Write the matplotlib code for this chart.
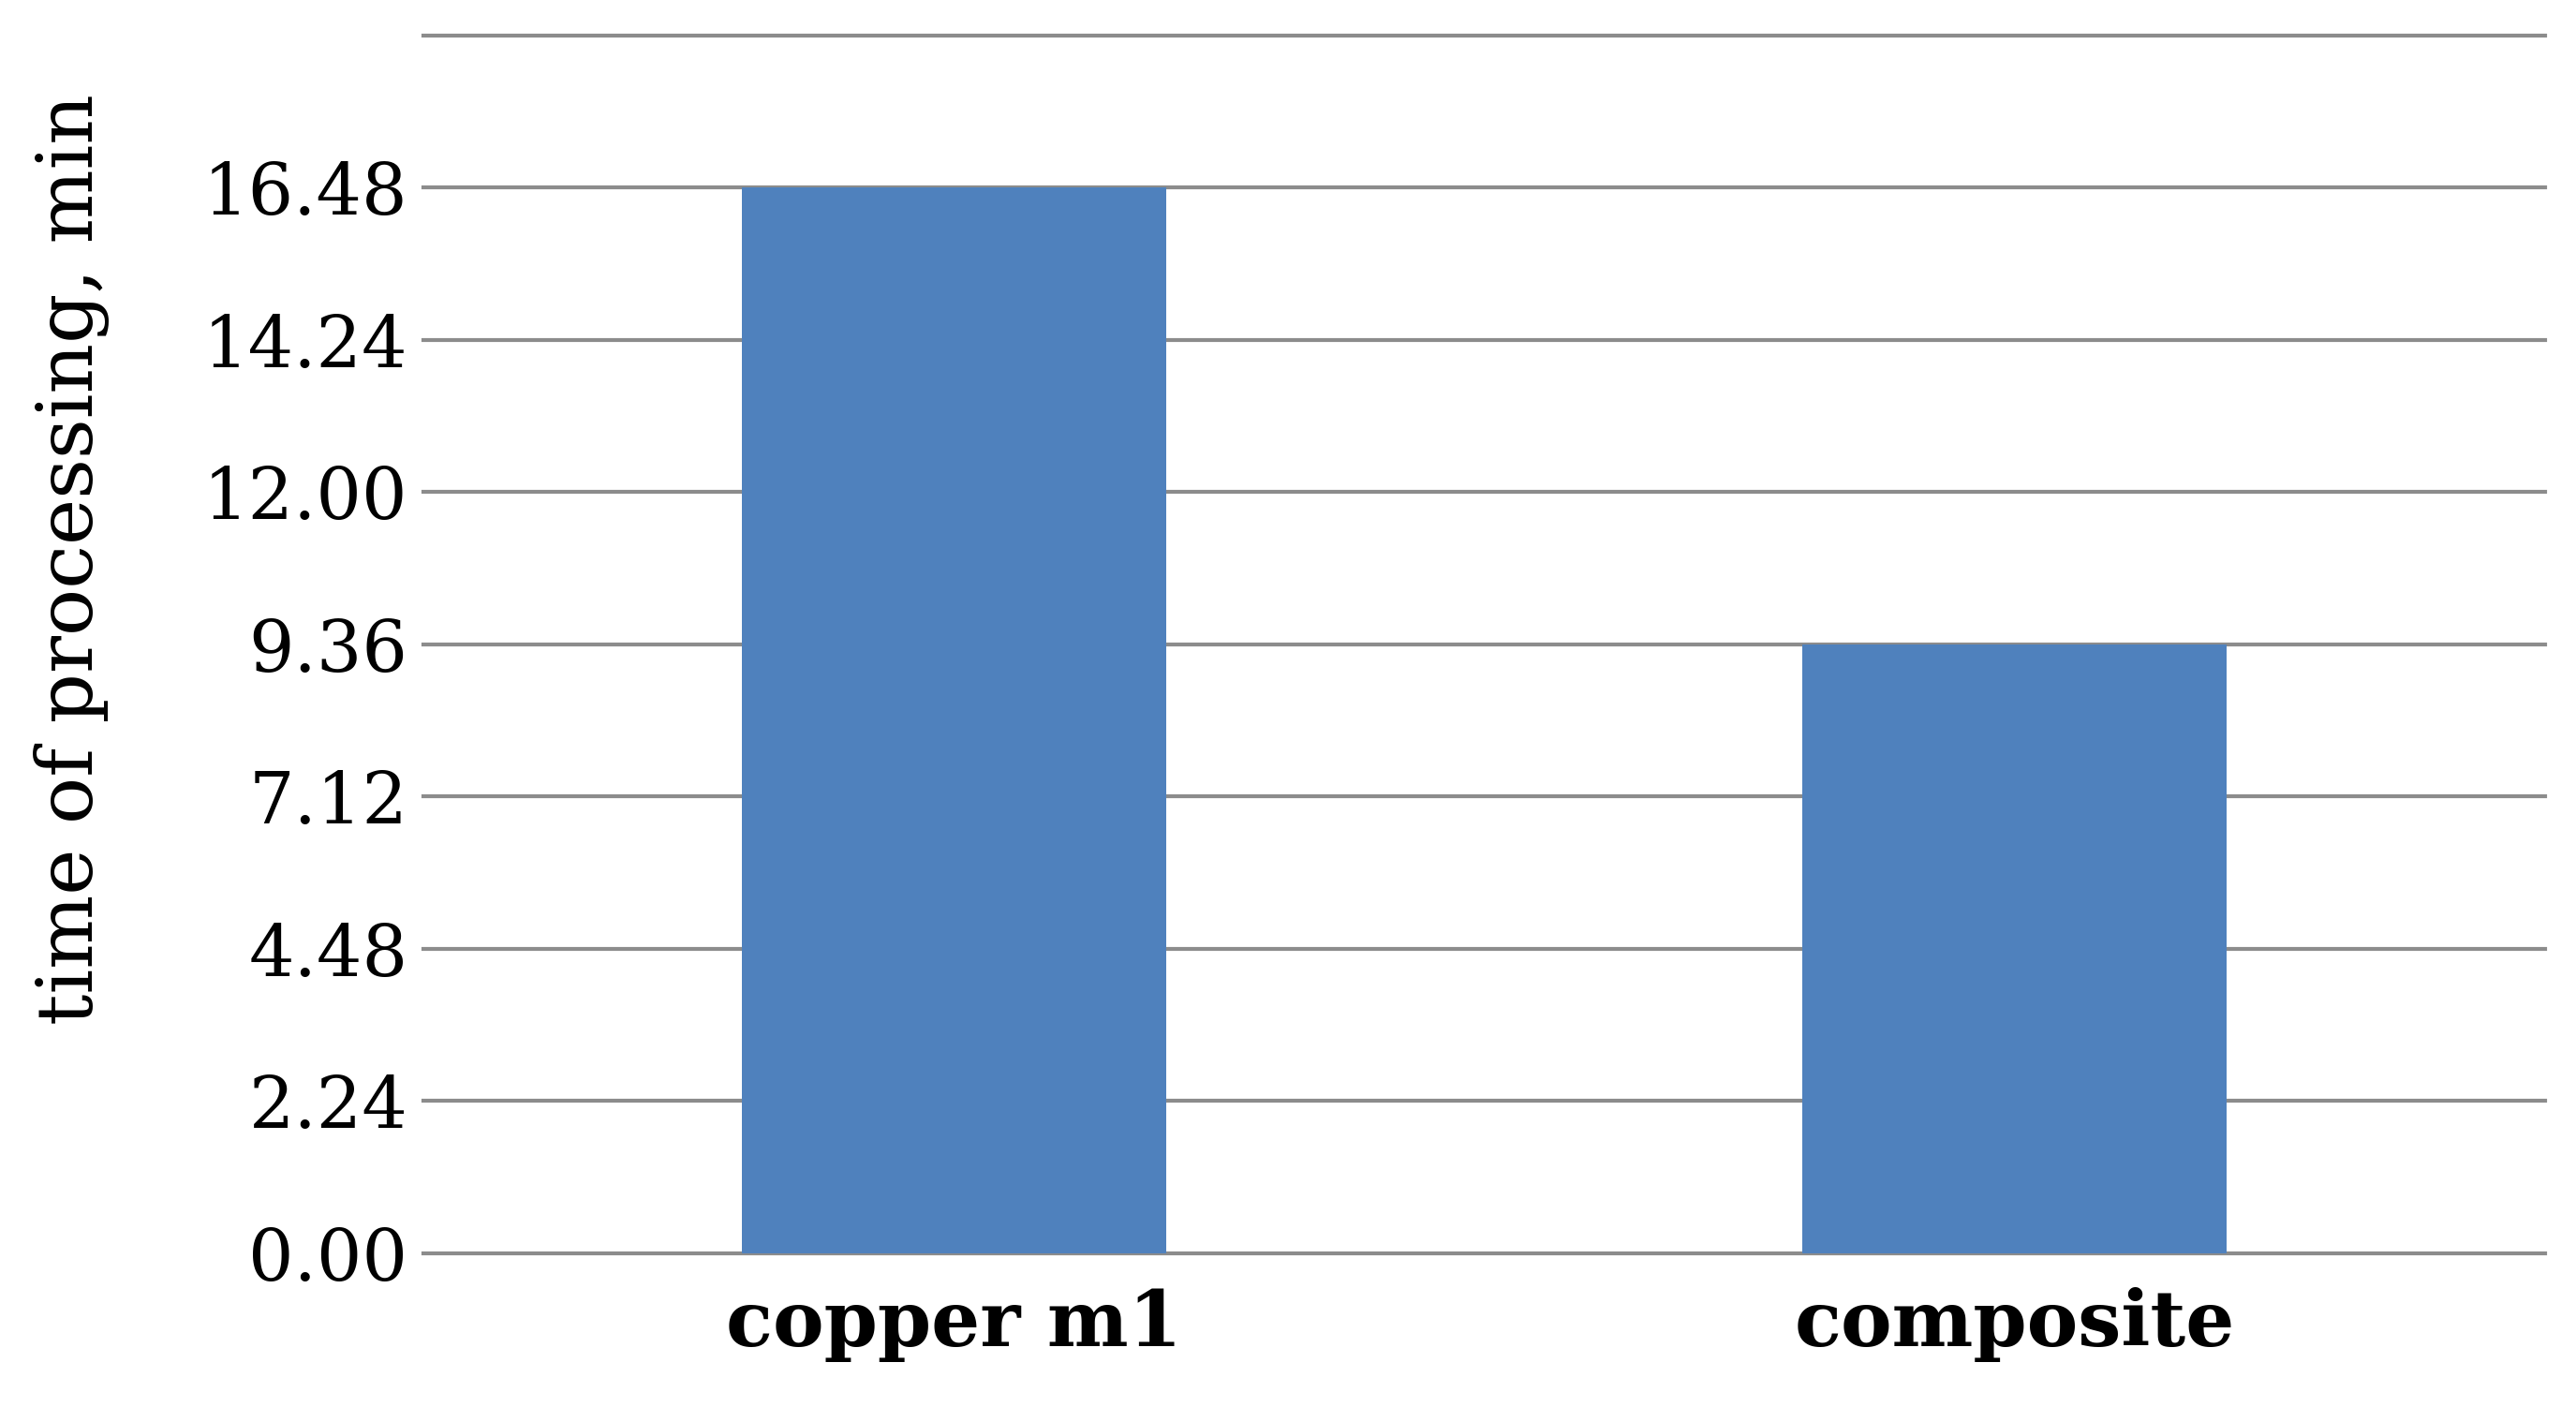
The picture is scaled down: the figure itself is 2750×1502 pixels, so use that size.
import numpy as np
import matplotlib.pyplot as plt

# data
categories = ['copper m1', 'composite']
times = [16.48, 9.36]

# y tick labels as printed (evenly spaced gridlines, uneven labels)
tick_values = [0.00, 2.24, 4.48, 7.12, 9.36, 12.00, 14.24, 16.48, 18.72]
tick_labels = ['0.00', '2.24', '4.48', '7.12', '9.36', '12.00', '14.24', '16.48', '']

plt.rcParams['font.family'] = ['DejaVu Serif']

idx = np.arange(len(tick_values), dtype=float)


def forward(y):
    return np.interp(y, tick_values, idx)


def inverse(i):
    return np.interp(i, idx, tick_values)


fig = plt.figure(figsize=(27.5, 15.02), dpi=100)
ax = fig.add_axes([0.1644, 0.1092, 0.8236, 0.8655])

ax.set_yscale('function', functions=(forward, inverse))
ax.bar(range(len(categories)), times, width=0.4, color='#4F81BD', zorder=3)

ax.set_xlim(-0.5, 1.5)
ax.set_ylim(tick_values[0], tick_values[-1])
ax.set_yticks(tick_values)
ax.set_yticklabels(tick_labels, fontsize=55)
ax.set_xticks(range(len(categories)))
ax.set_xticklabels(categories, fontsize=59, fontweight='bold')

ax.tick_params(axis='both', length=0)
ax.tick_params(axis='y', pad=12)
ax.tick_params(axis='x', pad=26)

ax.grid(axis='y', color='#8c8c8c', linewidth=3)
for line in ax.get_ygridlines():
    line.set_clip_on(False)
ax.set_axisbelow(True)

for s in ax.spines.values():
    s.set_visible(False)

ax.set_ylabel('time of processing, min', fontsize=60)
ax.yaxis.set_label_coords(-0.148, 0.57)

fig.savefig('out.png', dpi=100)
